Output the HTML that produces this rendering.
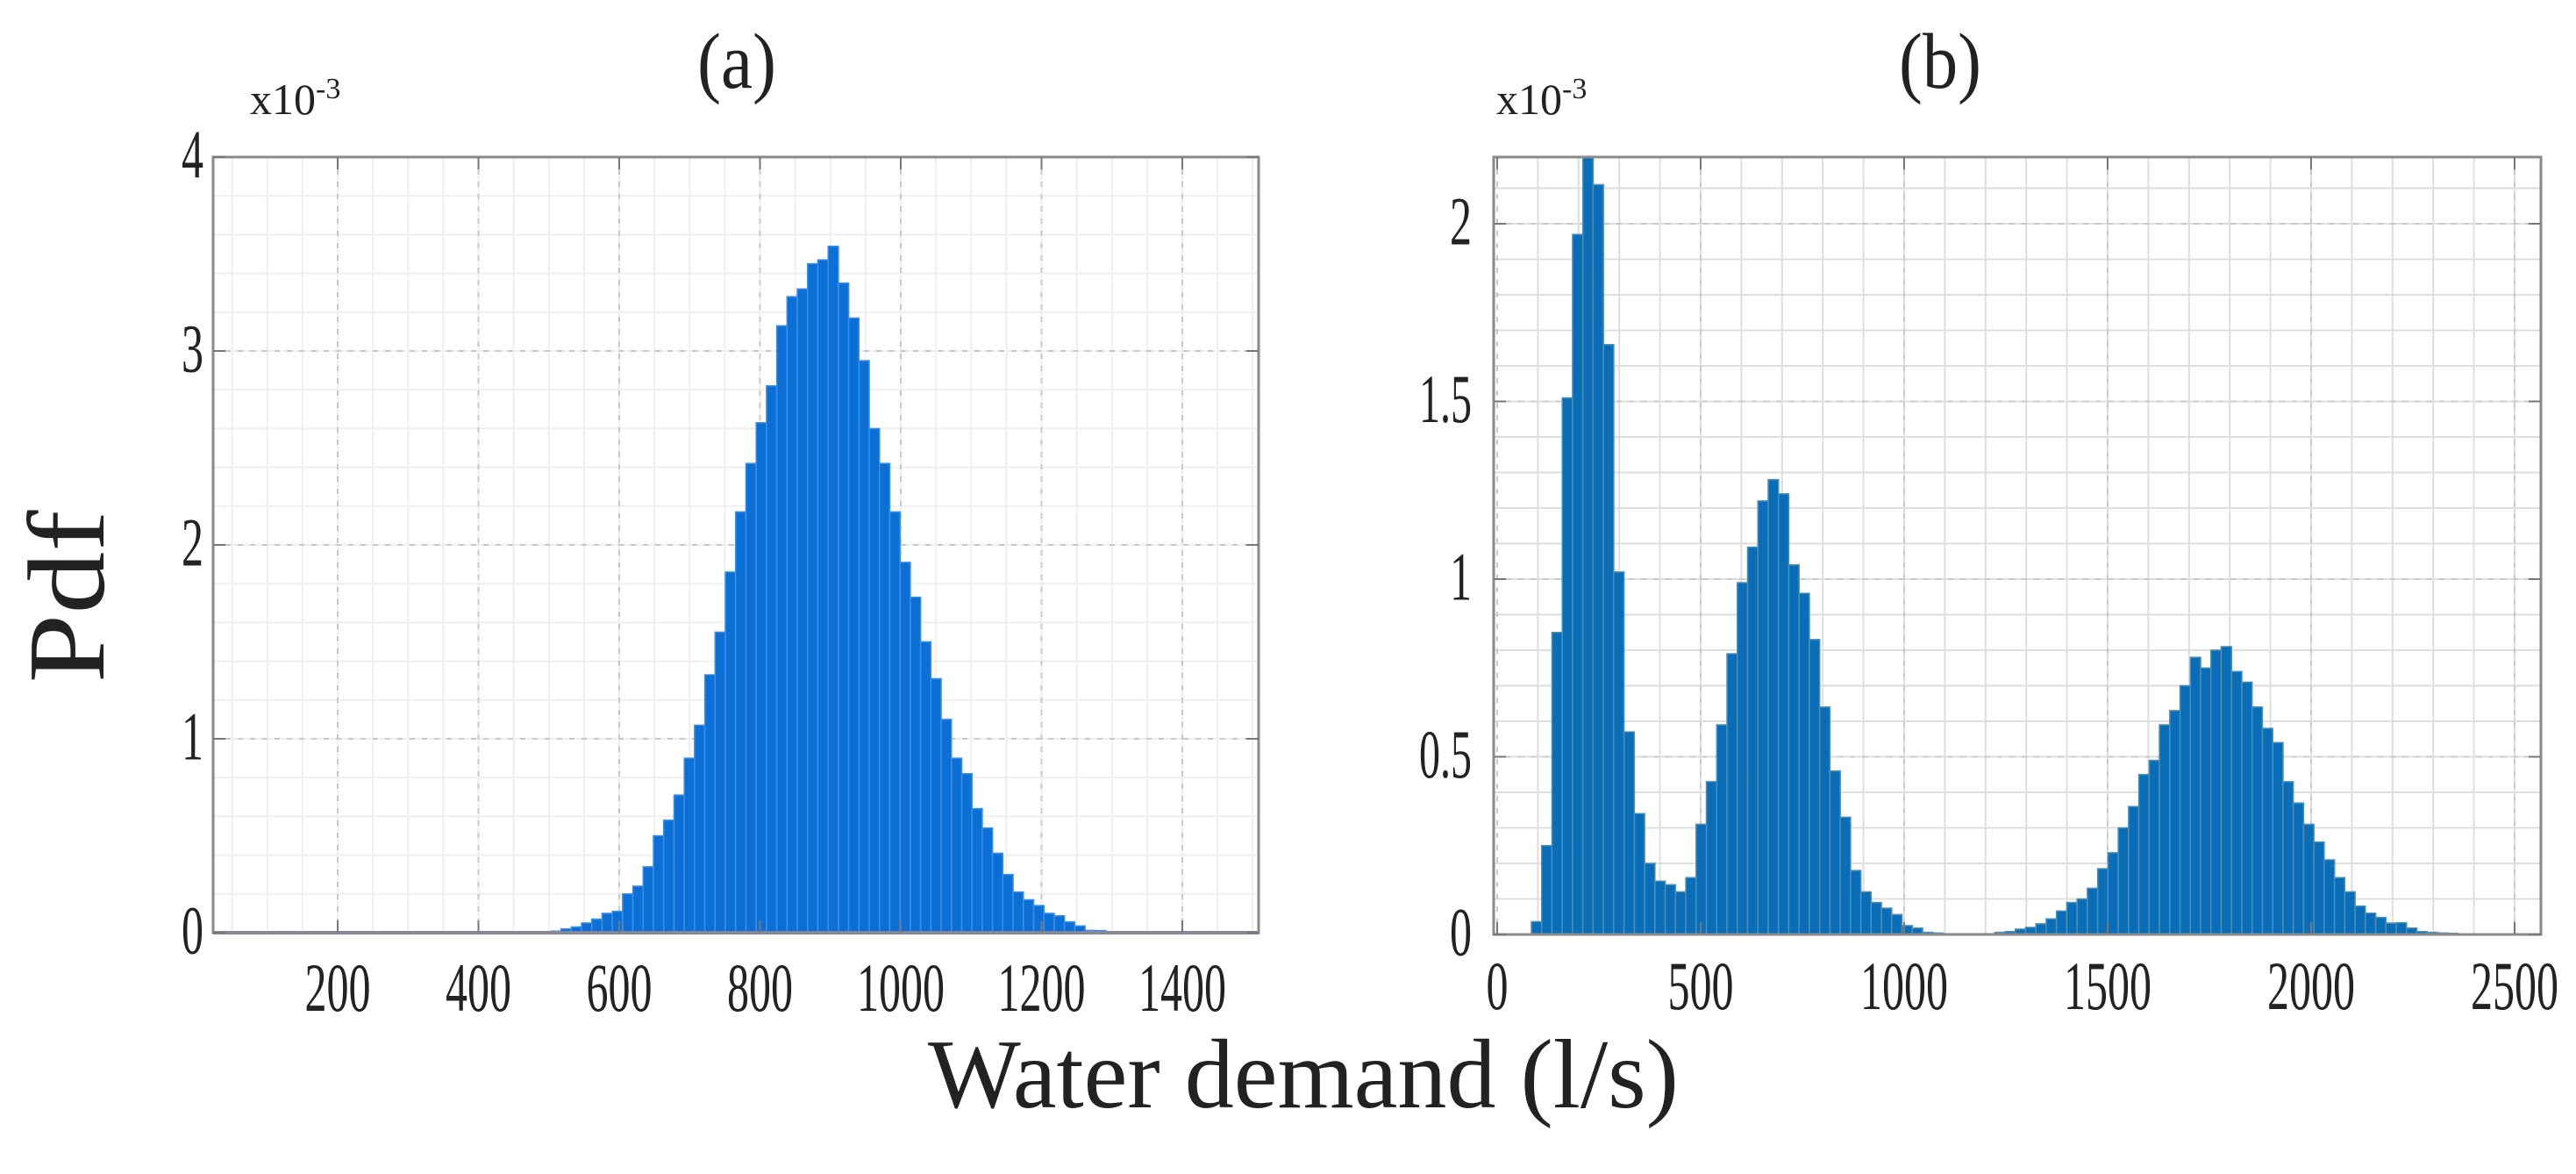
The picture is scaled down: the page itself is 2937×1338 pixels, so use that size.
<!DOCTYPE html>
<html><head><meta charset="utf-8"><style>
html,body{margin:0;padding:0;background:#fff;}
svg{display:block;}
text{font-family:"Liberation Serif",serif;fill:#222;}
</style></head><body>
<svg id="fig" width="2937" height="1338" viewBox="0 0 2937 1338" xmlns="http://www.w3.org/2000/svg">
<g id="pa"></g>
<g id="pb"></g>
<text x="840" y="100" font-size="90" text-anchor="middle" textLength="90" lengthAdjust="spacingAndGlyphs">(a)</text>
<text x="2212" y="100" font-size="90" text-anchor="middle" textLength="94" lengthAdjust="spacingAndGlyphs">(b)</text>
<text x="285" y="130" font-size="50">x10<tspan font-size="34" dy="-18">-3</tspan></text>
<text x="1706" y="130" font-size="50">x10<tspan font-size="34" dy="-18">-3</tspan></text>
<text transform="translate(118,680) rotate(-90)" font-size="125" text-anchor="middle" textLength="197" lengthAdjust="spacingAndGlyphs">Pdf</text>
<text x="1486" y="1262" font-size="112" text-anchor="middle" textLength="856" lengthAdjust="spacingAndGlyphs">Water demand (l/s)</text>
</svg>
<script>
// Panel (a) data
const aBinStart = 488;
const aBinWidth = 14.6;
const aValues = [0.004,0.008,0.02,0.03,0.05,0.07,0.10,0.11,0.20,0.24,0.34,0.50,0.58,0.71,0.90,1.07,1.33,1.55,1.86,2.17,2.42,2.63,2.82,3.13,3.28,3.32,3.45,3.47,3.54,3.35,3.17,2.95,2.60,2.42,2.17,1.91,1.73,1.50,1.31,1.10,0.90,0.82,0.64,0.54,0.41,0.30,0.21,0.17,0.14,0.10,0.087,0.056,0.035,0.012,0.011,0.005];
const aXTicks = [200,400,600,800,1000,1200,1400];
const aYTicks = [0,1,2,3,4];
// Panel (b) data
const bBinStart = 84;
const bBinWidth = 25.3;
const bValues = [0.036,0.25,0.85,1.51,1.97,2.19,2.11,1.66,1.02,0.57,0.34,0.20,0.15,0.14,0.12,0.16,0.31,0.43,0.59,0.79,0.99,1.09,1.22,1.28,1.24,1.04,0.96,0.83,0.64,0.46,0.33,0.18,0.12,0.09,0.074,0.056,0.025,0.018,0.006,0.004,0.002,0.002,0.002,0.002,0.002,0.006,0.008,0.015,0.02,0.03,0.044,0.066,0.09,0.10,0.13,0.185,0.23,0.30,0.36,0.45,0.49,0.59,0.63,0.70,0.78,0.75,0.80,0.81,0.74,0.71,0.64,0.58,0.54,0.43,0.37,0.31,0.26,0.21,0.16,0.12,0.08,0.06,0.048,0.032,0.033,0.018,0.008,0.006,0.004,0.003];
const bXTicks = [0,500,1000,1500,2000,2500];
const bYTicks = [0,0.5,1,1.5,2];
const bYLabels = ["0","0.5","1","1.5","2"];

const NS = "http://www.w3.org/2000/svg";
function mk(parent, tag, attrs){
  const e = document.createElementNS(NS, tag);
  for (const k in attrs) e.setAttribute(k, attrs[k]);
  parent.appendChild(e);
  return e;
}

function panel(g, cfg){
  const X = v => cfg.x0 + v*cfg.sx;
  const Y = v => cfg.y0 - v*cfg.sy;
  const L = cfg.left, R = cfg.right, T = cfg.top, B = cfg.bottom;
  mk(g,'rect',{x:L,y:T,width:R-L,height:B-T,fill:'#fff'});
  for (let v = cfg.xMinorStart; v <= cfg.xMax; v += cfg.xMinor){
    const px = X(v); if (px<=L||px>=R) continue;
    mk(g,'line',{x1:px,y1:T,x2:px,y2:B,stroke:cfg.minorCol,'stroke-width':2});
  }
  for (let v = cfg.yMinor; Y(v) > T; v += cfg.yMinor){
    const py = Y(v);
    mk(g,'line',{x1:L,y1:py,x2:R,y2:py,stroke:cfg.minorCol,'stroke-width':2});
  }
  cfg.xTicks.forEach(v=>{ const px=X(v); if(px<=L||px>=R) return;
    mk(g,'line',{x1:px,y1:T,x2:px,y2:B,stroke:'#c8c8c8','stroke-width':2,'stroke-dasharray':'6 8'}); });
  cfg.yTicks.forEach(v=>{ const py=Y(v); if(py<=T||py>=B) return;
    mk(g,'line',{x1:L,y1:py,x2:R,y2:py,stroke:'#c8c8c8','stroke-width':2,'stroke-dasharray':'6 8'}); });
  cfg.values.forEach((v,i)=>{
    const x1 = X(cfg.binStart + i*cfg.binWidth), x2 = X(cfg.binStart + (i+1)*cfg.binWidth);
    const y = Math.max(Y(v), T);
    const r = mk(g,'rect',{x:x1,y:y,width:x2-x1,height:Math.max(cfg.y0-y,1.5),fill:cfg.fill,stroke:cfg.edge,'stroke-width':1.5});
    
    
  });
  if (cfg.baseline) mk(g,'line',{x1:L,y1:cfg.y0,x2:R,y2:cfg.y0,stroke:cfg.baseline,'stroke-width':4});
  mk(g,'rect',{x:L,y:T,width:R-L,height:B-T,fill:'none',stroke:'#8a8a8a','stroke-width':3});
  cfg.xTicks.forEach(v=>{
    const px = X(v);
    if (px>L && px<R){
      mk(g,'line',{x1:px,y1:B,x2:px,y2:B-14,stroke:'#777','stroke-width':2});
      mk(g,'line',{x1:px,y1:T,x2:px,y2:T+14,stroke:'#777','stroke-width':2});
    }
    const t = mk(g,'text',{x:px,y:cfg.xLabelY,'font-size':cfg.fs,'text-anchor':'middle',textLength:String(v).length*cfg.cw,lengthAdjust:'spacingAndGlyphs'});
    t.textContent = String(v);
    
    
  });
  cfg.yTicks.forEach((v,i)=>{
    const py = Y(v);
    mk(g,'line',{x1:L,y1:py,x2:L+14,y2:py,stroke:'#777','stroke-width':2});
    mk(g,'line',{x1:R,y1:py,x2:R-14,y2:py,stroke:'#777','stroke-width':2});
    const s = cfg.yLabels ? cfg.yLabels[i] : String(v);
    const w = s.replace('.','').length*cfg.cw + (s.includes('.')?cfg.cw*0.4:0);
    const t = mk(g,'text',{x:cfg.yLabelX,y:py+cfg.fs*0.3,'font-size':cfg.fs,'text-anchor':'end',textLength:w,lengthAdjust:'spacingAndGlyphs'});
    t.textContent = s;
    
    
  });
}

panel(document.getElementById('pa'),{
  x0:224.5, sx:0.8025, y0:1063, sy:221,
  left:243, right:1435, top:179, bottom:1063,
  xMinorStart:50, xMinor:50, xMax:1510, yMinor:0.2,
  xTicks:aXTicks, yTicks:aYTicks, values:aValues,
  binStart:aBinStart, binWidth:aBinWidth,
  fill:'#0b6fd6', edge:'#3b8fe6', minorCol:'#efefef', baseline:'#7a78c8',
  xLabelY:1152, yLabelX:232, fs:78, cw:25
});
panel(document.getElementById('pb'),{
  x0:1707, sx:0.464, y0:1065, sy:405,
  left:1703, right:2897, top:179, bottom:1065,
  xMinorStart:100, xMinor:100, xMax:2600, yMinor:0.1,
  xTicks:bXTicks, yTicks:bYTicks, yLabels:bYLabels, values:bValues,
  binStart:bBinStart, binWidth:bBinWidth,
  fill:'#0a6db8', edge:'#4d8fb3', minorCol:'#dedede', baseline:null,
  xLabelY:1150, yLabelX:1678, fs:78, cw:25
});
</script>
</body></html>
